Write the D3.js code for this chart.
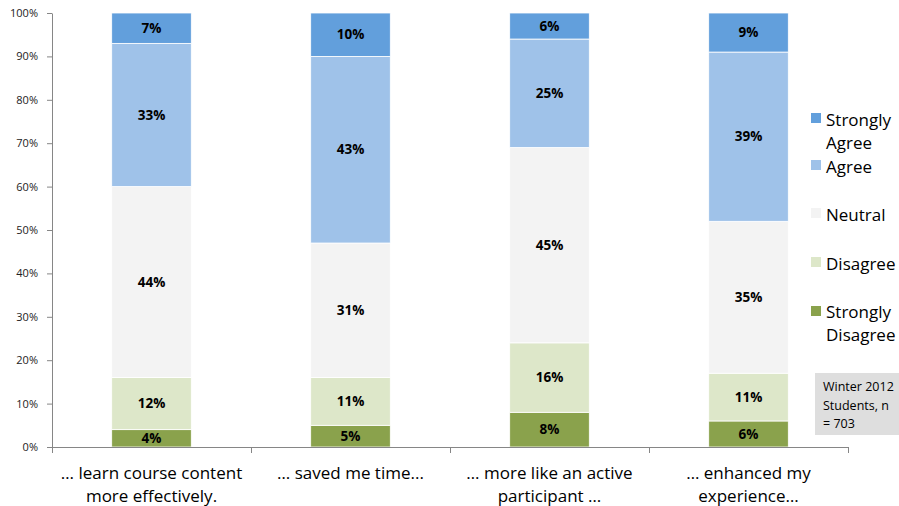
<!DOCTYPE html>
<html>
<head>
<meta charset="utf-8">
<script src="https://cdn.jsdelivr.net/npm/d3@7"></script>
<style>
  body { margin: 0; background: #fff; }
  svg text { font-family: "Open Sans", "Liberation Sans", sans-serif; }
</style>
</head>
<body>
<div class="chart"></div>
<script>
var width = 899, height = 506;

// data
var categories = [
  ["\u2026 learn course content", "more effectively."],
  ["\u2026 saved me time..."],
  ["\u2026 more like an active", "participant \u2026"],
  ["\u2026 enhanced my", "experience\u2026"]
];
var series = ["Strongly Disagree", "Disagree", "Neutral", "Agree", "Strongly Agree"];
var stronglyDisagree = [4, 5, 8, 6];
var disagree = [12, 11, 16, 11];
var neutral = [44, 31, 45, 35];
var agree = [33, 43, 25, 39];
var stronglyAgree = [7, 10, 6, 9];
var yTicks = [0, 10, 20, 30, 40, 50, 60, 70, 80, 90, 100];

var colors = {
  "Strongly Agree": "#629fdc",
  "Agree": "#9fc2e9",
  "Neutral": "#f3f3f3",
  "Disagree": "#dde7c9",
  "Strongly Disagree": "#8aa24c"
};

var rows = categories.map(function(c, i) {
  return {
    idx: i,
    "Strongly Disagree": stronglyDisagree[i],
    "Disagree": disagree[i],
    "Neutral": neutral[i],
    "Agree": agree[i],
    "Strongly Agree": stronglyAgree[i]
  };
});

var svg = d3.select(".chart").append("svg")
  .attr("width", width)
  .attr("height", height);

var x = d3.scaleBand()
  .domain(d3.range(categories.length))
  .range([52, 848])
  .paddingInner(0.6)
  .paddingOuter(0.3);

var y = d3.scaleLinear()
  .domain([0, 100])
  .range([447, 13]);

var stack = d3.stack().keys(series);
var layers = stack(rows);

// bars
var layerG = svg.selectAll(".layer")
  .data(layers)
  .enter().append("g")
  .attr("class", "layer")
  .attr("fill", function(d) { return colors[d.key]; });

layerG.selectAll("rect")
  .data(function(d) { return d; })
  .enter().append("rect")
  .attr("x", function(d, i) { return x(i); })
  .attr("width", x.bandwidth())
  .attr("y", function(d) { return y(d[1]); })
  .attr("height", function(d) { return y(d[0]) - y(d[1]); })
  .attr("stroke", "#fff")
  .attr("stroke-width", 0.8);

// value labels
layerG.selectAll("text")
  .data(function(d) { var k = d.key; return d.map(function(p) { p.key = k; return p; }); })
  .enter().append("text")
  .attr("x", function(d, i) { return x(i) + x.bandwidth() / 2; })
  .attr("y", function(d) { return (y(d[0]) + y(d[1])) / 2; })
  .attr("dy", "0.35em")
  .attr("text-anchor", "middle")
  .attr("font-size", 13.5)
  .attr("font-weight", "bold")
  .attr("fill", "#000")
  .text(function(d) { return (d[1] - d[0]) + "%"; });

// y axis
var yAxis = svg.append("g")
  .attr("transform", "translate(52,0)")
  .call(d3.axisLeft(y).tickValues(yTicks).tickFormat(function(d) { return d + "%"; }).tickSize(5).tickSizeOuter(0));
yAxis.select(".domain").attr("stroke", "#868686");
yAxis.selectAll(".tick line").attr("stroke", "#868686");
yAxis.selectAll(".tick text")
  .attr("font-size", 11)
  .attr("fill", "#222")
  .attr("x", -14)
  .style("font-family", "'Open Sans', sans-serif");

// x axis line with boundary ticks
var xBounds = d3.range(categories.length + 1).map(function(i) {
  return 52 + i * x.step();
});
svg.append("line")
  .attr("x1", 52).attr("x2", 848)
  .attr("y1", 447.5).attr("y2", 447.5)
  .attr("stroke", "#868686");
svg.selectAll(".xtick")
  .data(xBounds)
  .enter().append("line")
  .attr("class", "xtick")
  .attr("x1", function(d) { return Math.round(d) + 0.5; })
  .attr("x2", function(d) { return Math.round(d) + 0.5; })
  .attr("y1", 447).attr("y2", 453)
  .attr("stroke", "#868686");

// category labels
svg.selectAll(".xlabel")
  .data(categories)
  .enter().append("text")
  .attr("class", "xlabel")
  .attr("text-anchor", "middle")
  .attr("font-size", 17)
  .attr("fill", "#000")
  .each(function(lines, i) {
    var t = d3.select(this);
    lines.forEach(function(l, j) {
      t.append("tspan")
        .attr("x", x(i) + x.bandwidth() / 2)
        .attr("y", 479 + j * 23)
        .text(l);
    });
  });

// legend
var legendItems = [
  { key: "Strongly Agree", lines: ["Strongly", "Agree"], sq: 113, ty: 120 },
  { key: "Agree", lines: ["Agree"], sq: 160, ty: 167 },
  { key: "Neutral", lines: ["Neutral"], sq: 208, ty: 215 },
  { key: "Disagree", lines: ["Disagree"], sq: 257, ty: 264 },
  { key: "Strongly Disagree", lines: ["Strongly", "Disagree"], sq: 306, ty: 312 }
];
var legend = svg.append("g").attr("class", "legend");
legendItems.forEach(function(it) {
  legend.append("rect")
    .attr("x", 811).attr("y", it.sq)
    .attr("width", 10).attr("height", 10)
    .attr("fill", colors[it.key]);
  var t = legend.append("text").attr("font-size", 17).attr("fill", "#000");
  it.lines.forEach(function(l, j) {
    t.append("tspan")
      .attr("x", 826)
      .attr("y", it.ty + j * 23)
      .attr("dy", "0.35em")
      .text(l);
  });
});

// note box
svg.append("rect")
  .attr("x", 815).attr("y", 373)
  .attr("width", 90).attr("height", 62)
  .attr("fill", "#dedede");
var note = svg.append("text").attr("font-size", 12.5).attr("fill", "#000");
["Winter 2012", "Students, n", "= 703"].forEach(function(l, j) {
  note.append("tspan")
    .attr("x", 823)
    .attr("y", 387 + j * 18.5)
    .attr("dy", "0.35em")
    .text(l);
});
</script>
</body>
</html>
